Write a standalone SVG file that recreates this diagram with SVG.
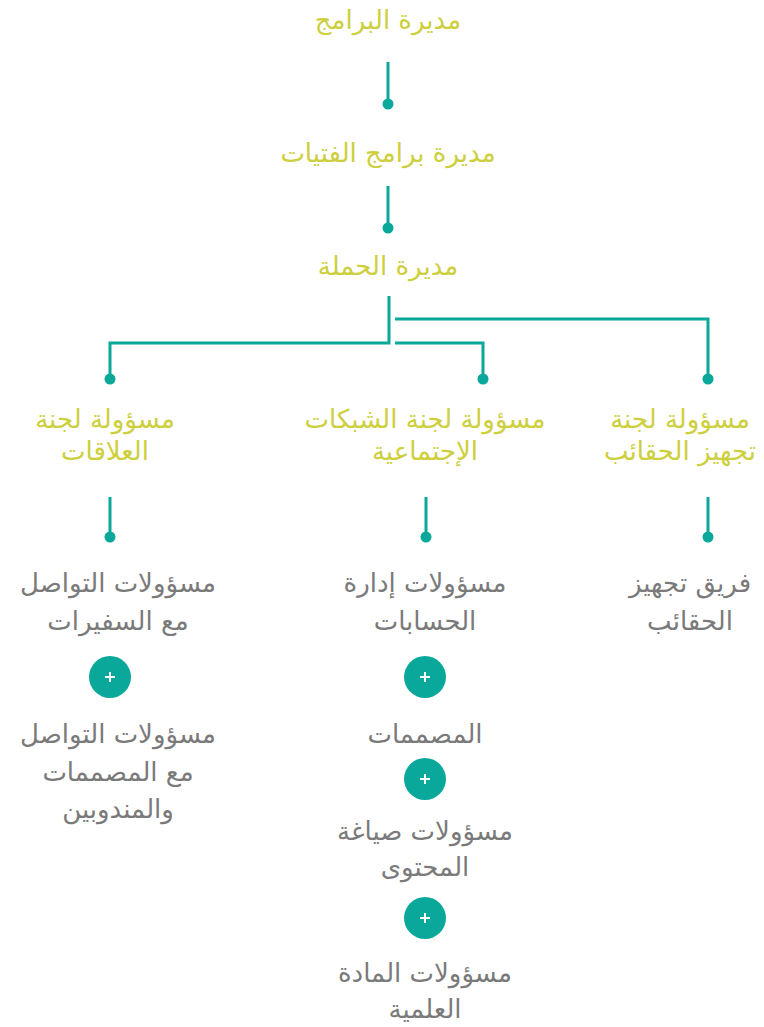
<svg xmlns="http://www.w3.org/2000/svg" width="764" height="1027" viewBox="0 0 764 1027">
<style>
text{font-family:"DejaVu Sans",sans-serif;font-size:26px;text-anchor:middle;direction:rtl}
.y{fill:#cdcf3c}
.g{fill:#7a7a7a}
.ln{stroke:#09a89a;stroke-width:3;fill:none}
.dot{fill:#09a89a}
.plus circle{fill:#09a89a}
.plus path{stroke:#fff;stroke-width:2;fill:none}
</style>
<rect width="764" height="1027" fill="#fff"/>
<g id="connectors">
<path class="ln" d="M388 62V104"/><circle class="dot" cx="388" cy="104" r="5.5"/>
<path class="ln" d="M388 186V228"/><circle class="dot" cx="388" cy="228" r="5.5"/>
<path class="ln" d="M389 296V343H110V379"/><circle class="dot" cx="110" cy="379" r="5.5"/>
<path class="ln" d="M395 343H483V379"/><circle class="dot" cx="483" cy="379" r="5.5"/>
<path class="ln" d="M395 319H708V379"/><circle class="dot" cx="708" cy="379" r="5.5"/>
<path class="ln" d="M110 497V537"/><circle class="dot" cx="110" cy="537" r="5.5"/>
<path class="ln" d="M426 497V537"/><circle class="dot" cx="426" cy="537" r="5.5"/>
<path class="ln" d="M708 497V537"/><circle class="dot" cx="708" cy="537" r="5.5"/>
</g>
<g id="n-programs"><text class="y" x="388" y="29">مديرة البرامج</text></g>
<g id="n-girls"><text class="y" x="388" y="162">مديرة برامج الفتيات</text></g>
<g id="n-campaign"><text class="y" x="388" y="275">مديرة الحملة</text></g>
<g id="n-relations"><text class="y" x="105" y="428">مسؤولة لجنة</text><text class="y" x="105" y="460">العلاقات</text></g>
<g id="n-social"><text class="y" x="425" y="428">مسؤولة لجنة الشبكات</text><text class="y" x="425" y="460">الإجتماعية</text></g>
<g id="n-bags"><text class="y" x="680" y="428">مسؤولة لجنة</text><text class="y" x="680" y="460">تجهيز الحقائب</text></g>
<g id="n-ambassadors"><text class="g" x="118" y="592">مسؤولات التواصل</text><text class="g" x="118" y="630">مع السفيرات</text></g>
<g id="p1" class="plus"><circle cx="110" cy="677" r="21"/><path d="M105 677H115M110 672V682"/></g>
<g id="n-designers-delegates"><text class="g" x="118" y="743">مسؤولات التواصل</text><text class="g" x="118" y="781">مع المصممات</text><text class="g" x="118" y="818">والمندوبين</text></g>
<g id="n-accounts"><text class="g" x="425" y="592">مسؤولات إدارة</text><text class="g" x="425" y="630">الحسابات</text></g>
<g id="p2" class="plus"><circle cx="425" cy="677" r="21"/><path d="M420 677H430M425 672V682"/></g>
<g id="n-designers"><text class="g" x="425" y="743">المصممات</text></g>
<g id="p3" class="plus"><circle cx="425" cy="779" r="21"/><path d="M420 779H430M425 774V784"/></g>
<g id="n-content"><text class="g" x="425" y="840">مسؤولات صياغة</text><text class="g" x="425" y="876">المحتوى</text></g>
<g id="p4" class="plus"><circle cx="425" cy="918" r="21"/><path d="M420 918H430M425 913V923"/></g>
<g id="n-science"><text class="g" x="425" y="982">مسؤولات المادة</text><text class="g" x="425" y="1018">العلمية</text></g>
<g id="n-bagteam"><text class="g" x="690" y="592">فريق تجهيز</text><text class="g" x="690" y="630">الحقائب</text></g>
</svg>
